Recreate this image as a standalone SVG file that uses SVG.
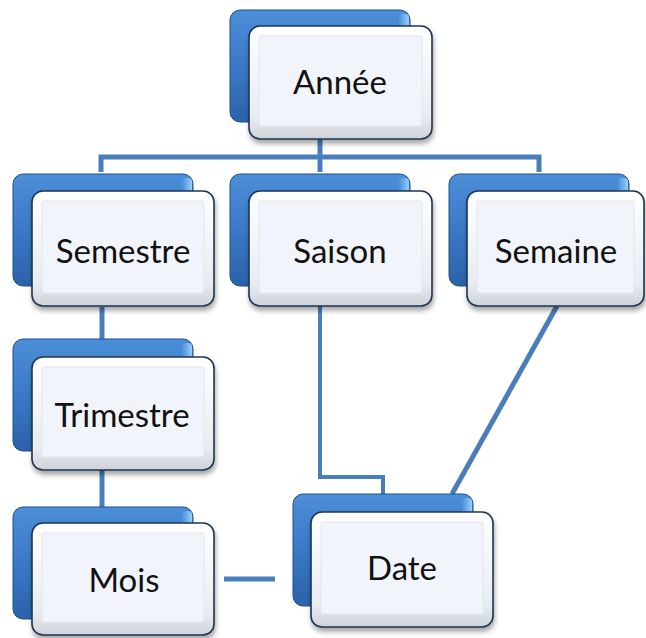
<svg xmlns="http://www.w3.org/2000/svg" width="646" height="638" viewBox="0 0 646 638">
  <style>
    .link { fill: none; stroke: #4A7EBB; stroke-width: 5; stroke-linejoin: miter; }
    .thin { stroke-width: 4; }
    .back { fill: url(#blueFace); stroke: #1F4E8C; stroke-width: 1; }
    .glint { fill: url(#blueGlint); }
    .front { fill: url(#frameFace); stroke: #1D3553; stroke-width: 1.6; filter: url(#shadow); }
    .face { fill: #F1F4FA; stroke: #E3E6EB; stroke-width: 1; }
    .label { font-family: Lato, "Liberation Sans", sans-serif; font-size: 33px; fill: #111; text-anchor: middle; }
  </style>
  <defs>
    <linearGradient id="blueFace" x1="0" y1="0" x2="0" y2="1">
      <stop offset="0" stop-color="#4C8ED8"/>
      <stop offset="0.5" stop-color="#3B79C6"/>
      <stop offset="1" stop-color="#2B62A8"/>
    </linearGradient>
    <linearGradient id="blueGlint" x1="0" y1="0" x2="1" y2="0">
      <stop offset="0" stop-color="#8FD0FF" stop-opacity="0"/>
      <stop offset="1" stop-color="#9ED8FF" stop-opacity="0.9"/>
    </linearGradient>
    <linearGradient id="frameFace" x1="0" y1="0" x2="0" y2="1">
      <stop offset="0" stop-color="#FFFFFF"/>
      <stop offset="0.8" stop-color="#E9ECF0"/>
      <stop offset="1" stop-color="#CFD3D9"/>
    </linearGradient>
    <filter id="shadow" x="-10%" y="-10%" width="125%" height="130%">
      <feDropShadow dx="1" dy="4" stdDeviation="2.5" flood-color="#000" flood-opacity="0.35"/>
    </filter>
  </defs>

  <!-- connectors -->
  <g id="connectors">
    <path class="link" d="M320 138 V157 M101 172 V157 H539 V172 M320 157 V172"/>
    <path class="link" d="M102 307 V339"/>
    <path class="link" d="M102 470 V507"/>
    <path class="link thin" d="M320 305 V477 H383 V494"/>
    <path class="link" d="M557 306 L452 494"/>
    <path class="link" d="M224 579 H275" stroke-width="6"/>
  </g>

  <g id="annee">
    <rect class="back" x="230" y="10" width="180" height="112" rx="10"/>
    <rect class="glint" x="398" y="14" width="11" height="40" rx="4"/>
    <rect class="front" x="249" y="26" width="183" height="113" rx="11"/>
    <rect class="face" x="259" y="36" width="163" height="90" rx="2"/>
    <text class="label" x="340" y="94">Année</text>
  </g>

  <g id="semestre">
    <rect class="back" x="13" y="174" width="180" height="112" rx="10"/>
    <rect class="glint" x="181" y="178" width="11" height="40" rx="4"/>
    <rect class="front" x="32" y="191" width="182" height="115" rx="11"/>
    <rect class="face" x="42" y="201" width="162" height="92" rx="2"/>
    <text class="label" x="123" y="263">Semestre</text>
  </g>

  <g id="saison">
    <rect class="back" x="230" y="174" width="180" height="112" rx="10"/>
    <rect class="glint" x="398" y="178" width="11" height="40" rx="4"/>
    <rect class="front" x="249" y="191" width="183" height="115" rx="11"/>
    <rect class="face" x="259" y="201" width="163" height="92" rx="2"/>
    <text class="label" x="340" y="263">Saison</text>
  </g>

  <g id="semaine">
    <rect class="back" x="449" y="174" width="180" height="112" rx="10"/>
    <rect class="glint" x="617" y="178" width="11" height="40" rx="4"/>
    <rect class="front" x="467" y="191" width="177" height="115" rx="11"/>
    <rect class="face" x="477" y="201" width="157" height="92" rx="2"/>
    <text class="label" x="556" y="263">Semaine</text>
  </g>

  <g id="trimestre">
    <rect class="back" x="13" y="339" width="180" height="112" rx="10"/>
    <rect class="glint" x="181" y="343" width="11" height="40" rx="4"/>
    <rect class="front" x="32" y="357" width="182" height="113" rx="11"/>
    <rect class="face" x="42" y="367" width="162" height="90" rx="2"/>
    <text class="label" x="122" y="427">Trimestre</text>
  </g>

  <g id="mois">
    <rect class="back" x="13" y="507" width="180" height="112" rx="10"/>
    <rect class="glint" x="181" y="511" width="11" height="40" rx="4"/>
    <rect class="front" x="32" y="523" width="182" height="112" rx="11"/>
    <rect class="face" x="42" y="533" width="162" height="89" rx="2"/>
    <text class="label" x="124" y="592">Mois</text>
  </g>

  <g id="date">
    <rect class="back" x="293" y="494" width="180" height="112" rx="10"/>
    <rect class="glint" x="461" y="498" width="11" height="40" rx="4"/>
    <rect class="front" x="311" y="512" width="182" height="115" rx="11"/>
    <rect class="face" x="321" y="522" width="162" height="92" rx="2"/>
    <text class="label" x="402" y="580">Date</text>
  </g>
</svg>
